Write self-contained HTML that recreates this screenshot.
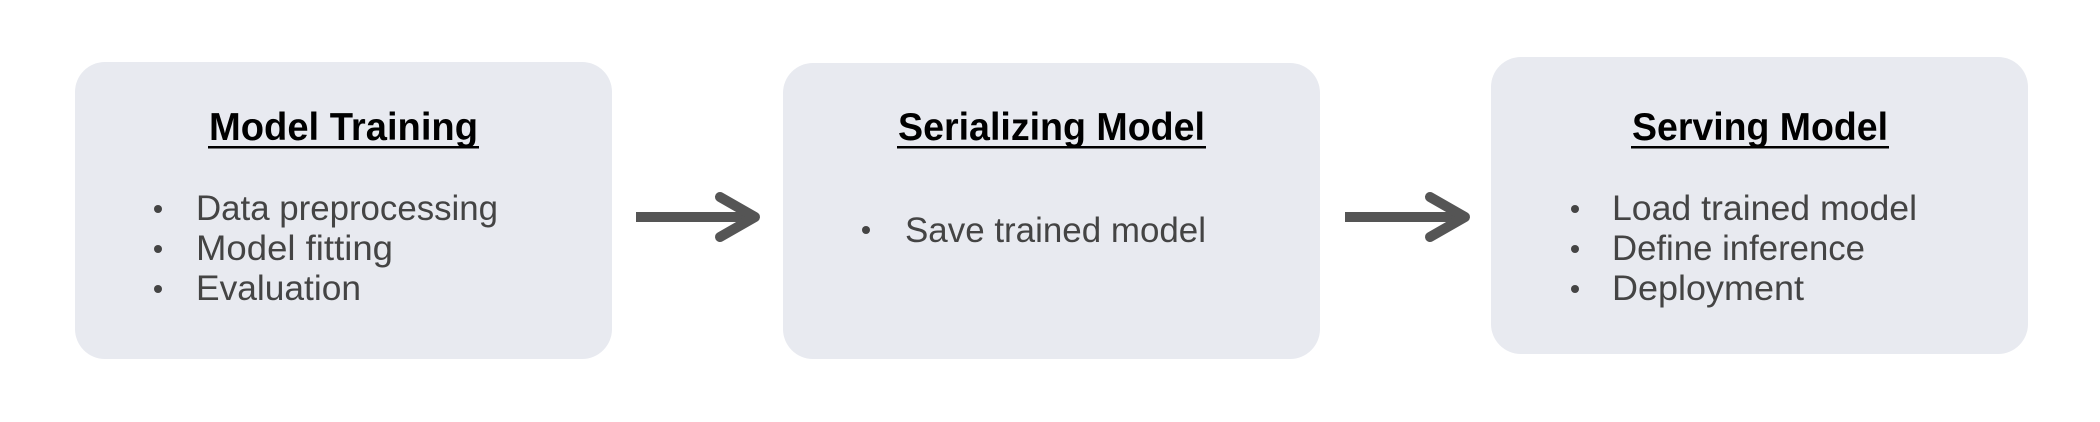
<!DOCTYPE html>
<html><head><style>html,body{margin:0;padding:0;background:#fff;}</style></head>
<body>
<svg width="2100" height="422" xmlns="http://www.w3.org/2000/svg" style="display:block">
<g fill="#e8eaf0">
<rect x="75" y="62" width="537" height="297" rx="30"/>
<rect x="783" y="63" width="537" height="296" rx="30"/>
<rect x="1491" y="57" width="537" height="297" rx="30"/>
</g>
<g font-family="Liberation Sans, sans-serif" font-weight="bold" font-size="39" fill="#000">
<text x="209" y="140" textLength="269" lengthAdjust="spacingAndGlyphs">Model Training</text>
<text x="898" y="140" textLength="307" lengthAdjust="spacingAndGlyphs">Serializing Model</text>
<text x="1632" y="140" textLength="256" lengthAdjust="spacingAndGlyphs">Serving Model</text>
</g>
<g fill="#000">
<rect x="208" y="146" width="271" height="2.5"/>
<rect x="897" y="146" width="309" height="2.5"/>
<rect x="1631" y="146" width="258" height="2.5"/>
</g>
<g font-family="Liberation Sans, sans-serif" font-size="35" fill="#444">
<text x="196" y="220" textLength="302" lengthAdjust="spacingAndGlyphs">Data preprocessing</text>
<text x="196" y="260" textLength="197" lengthAdjust="spacingAndGlyphs">Model fitting</text>
<text x="196" y="300" textLength="165" lengthAdjust="spacingAndGlyphs">Evaluation</text>
<text x="905" y="242" textLength="301" lengthAdjust="spacingAndGlyphs">Save trained model</text>
<text x="1612" y="220" textLength="305" lengthAdjust="spacingAndGlyphs">Load trained model</text>
<text x="1612" y="260" textLength="253" lengthAdjust="spacingAndGlyphs">Define inference</text>
<text x="1612" y="300" textLength="192" lengthAdjust="spacingAndGlyphs">Deployment</text>
</g>
<g fill="#444">
<circle cx="158" cy="209" r="4"/><circle cx="158" cy="249" r="4"/><circle cx="158" cy="289" r="4"/>
<circle cx="866" cy="230" r="4"/>
<circle cx="1575" cy="209" r="4"/><circle cx="1575" cy="249" r="4"/><circle cx="1575" cy="289" r="4"/>
</g>
<g stroke="#555" stroke-width="10" fill="none" stroke-linecap="round" stroke-linejoin="round">
<line x1="636" y1="217" x2="752" y2="217" stroke-linecap="butt"/>
<polyline points="720,197 755,217 720,237"/>
<line x1="1345" y1="217" x2="1462" y2="217" stroke-linecap="butt"/>
<polyline points="1430,197 1465,217 1430,237"/>
</g>
</svg>
</body></html>
